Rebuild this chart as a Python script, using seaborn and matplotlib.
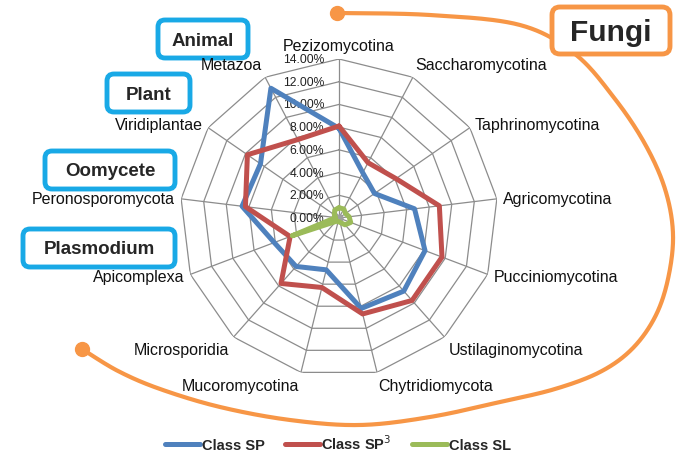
import numpy as np
import pandas as pd
import matplotlib
matplotlib.use("Agg")
import matplotlib.pyplot as plt
from matplotlib.patches import FancyBboxPatch
from matplotlib.lines import Line2D
import seaborn as sns

categories = ["Pezizomycotina", "Saccharomycotina", "Taphrinomycotina", "Agricomycotina",
              "Pucciniomycotina", "Ustilaginomycotina", "Chytridiomycota", "Mucoromycotina",
              "Microsporidia", "Apicomplexa", "Peronosporomycota", "Viridiplantae", "Metazoa"]
class_sp = [7.9, 4.5, 3.8, 6.7, 8.1, 8.6, 8.2, 4.7, 5.7, 6.1, 8.6, 8.4, 12.9]
class_sp3 = [8.1, 5.5, 6.1, 8.9, 9.7, 9.7, 8.7, 6.3, 7.7, 4.6, 8.3, 9.8, 7.8]
class_sl = [0.9, 0.9, 0.7, 0.9, 1.1, 0.8, 0.4, 0.3, 0.4, 4.4, 0.3, 0.5, 0.8]
series_names = ["Class SP", "Class SP$^3$", "Class SL"]
r_ticks = [0, 2, 4, 6, 8, 10, 12, 14]

groups = [("Animal", (158, 21, 248, 59)), ("Plant", (107, 75, 190, 113)),
          ("Oomycete", (45, 152, 175, 190)), ("Plasmodium", (23, 230, 175, 268))]

colors = {"Class SP": "#4F81BD", "Class SP$^3$": "#C0504D", "Class SL": "#9BBB59"}
cyan, orange, grid_c = "#19A9E6", "#F79646", "#8C8C8C"

sns.set_style("white")
plt.rcParams["font.family"] = ["Liberation Sans", "DejaVu Sans"]

W, H = 685, 464
fig = plt.figure(figsize=(W / 100, H / 100), dpi=100)

# background layer in pixel coords for the decorations
bg = fig.add_axes([0, 0, 1, 1], zorder=0)
bg.set_xlim(0, W)
bg.set_ylim(H, 0)
bg.axis("off")


def catmull(pts, n=25):
    pts = np.asarray(pts, float)
    p = np.vstack([pts[0], pts, pts[-1]])
    out = []
    t = np.linspace(0, 1, n)[:, None]
    for i in range(1, len(p) - 2):
        p0, p1, p2, p3 = p[i - 1], p[i], p[i + 1], p[i + 2]
        out.append(0.5 * (2 * p1 + (-p0 + p2) * t + (2 * p0 - 5 * p1 + 4 * p2 - p3) * t ** 2
                          + (-p0 + 3 * p1 - 3 * p2 + p3) * t ** 3))
    return np.vstack(out)


arc_pts = [(337, 14), (430, 16), (520, 26), (575, 55), (615, 100), (645, 145), (665, 190),
           (673, 235), (668, 280), (655, 318), (632, 350), (600, 373), (555, 390), (500, 403),
           (430, 418), (360, 426), (290, 421), (220, 408), (160, 390), (118, 372), (82, 350)]
curve = catmull(arc_pts)
bg.plot(curve[:, 0], curve[:, 1], color=orange, lw=3, solid_capstyle="round", zorder=1)
bg.plot([arc_pts[0][0], arc_pts[-1][0]], [arc_pts[0][1], arc_pts[-1][1]], "o",
        color=orange, ms=10, zorder=1)

for name, (x0, y0, x1, y1) in groups:
    bg.add_patch(FancyBboxPatch((x0, y0), x1 - x0, y1 - y0, boxstyle="round,pad=0,rounding_size=7",
                                fc="white", ec=cyan, lw=3.5, zorder=2))
    bg.text((x0 + x1) / 2, (y0 + y1) / 2 + 1, name, ha="center", va="center",
            fontsize=13.5, fontweight="bold", zorder=3)

bg.add_patch(FancyBboxPatch((552, 8), 118, 47, boxstyle="round,pad=0,rounding_size=8",
                            fc="white", ec=orange, lw=3.5, zorder=2))
bg.text(611, 33, "Fungi", ha="center", va="center", fontsize=21.5, fontweight="bold", zorder=3)

# radar chart
cx, cy, rad = 339, 219, 159
ax = fig.add_axes([(cx - rad) / W, (H - cy - rad) / H, 2 * rad / W, 2 * rad / H],
                  projection="polar", zorder=1)
ax.set_facecolor("none")
ax.set_theta_zero_location("N")
ax.set_theta_direction(-1)
ax.set_ylim(0, 14)
ax.grid(False)
ax.spines["polar"].set_visible(False)

n = len(categories)
theta = np.linspace(0, 2 * np.pi, n, endpoint=False)
theta_c = np.append(theta, theta[0])
for r in r_ticks[1:]:
    ax.plot(theta_c, [r] * (n + 1), color=grid_c, lw=0.9, zorder=1)
for th in theta:
    ax.plot([th, th], [0, 14], color=grid_c, lw=0.9, zorder=1)
ax.plot(0, 0, "o", color="#A0A0A0", ms=5, zorder=1)

for r in r_ticks:
    ax.annotate(f"{r:.2f}%", xy=(0, r), xytext=(-15, 0), textcoords="offset pixels",
                ha="right", va="center", fontsize=8.7, color="#222222")

for th, lab in zip(theta, categories):
    s, c = np.sin(th), np.cos(th)
    ha = "left" if s > 0.1 else ("right" if s < -0.1 else "center")
    va = "bottom" if c > 0.7 else ("top" if c < -0.7 else "center")
    off = 6
    ax.annotate(lab, xy=(th, 14), xytext=(off * s, off * c), textcoords="offset pixels",
                ha=ha, va=va, fontsize=11.5, color="#111111")

rows = []
for name, vals in zip(series_names, [class_sp, class_sp3, class_sl]):
    closed = list(vals) + [vals[0]]
    for th, v in zip(theta_c, closed):
        rows.append({"series": name, "theta": th, "value": v})
df = pd.DataFrame(rows)

for z, name in enumerate(series_names):
    sub = df[df["series"] == name]
    sns.lineplot(data=sub, x="theta", y="value", sort=False, ax=ax, color=colors[name],
                 lw=3.6, legend=False, zorder=3 + z, estimator=None)
ax.set_xlabel("")
ax.set_ylabel("")
ax.set_xticks([])
ax.set_yticks([])
ax.set_ylim(0, 14)

handles = [Line2D([], [], color=colors[nm], lw=3.6, solid_capstyle="round") for nm in series_names]
fig.legend(handles, series_names, loc="center", bbox_to_anchor=(338 / W, 1 - 444 / H), ncol=3,
           frameon=False, handlelength=2.4, handletextpad=0.1, columnspacing=1.4,
           prop={"weight": "bold", "size": 10.5})

fig.savefig("out.png", dpi=100)
